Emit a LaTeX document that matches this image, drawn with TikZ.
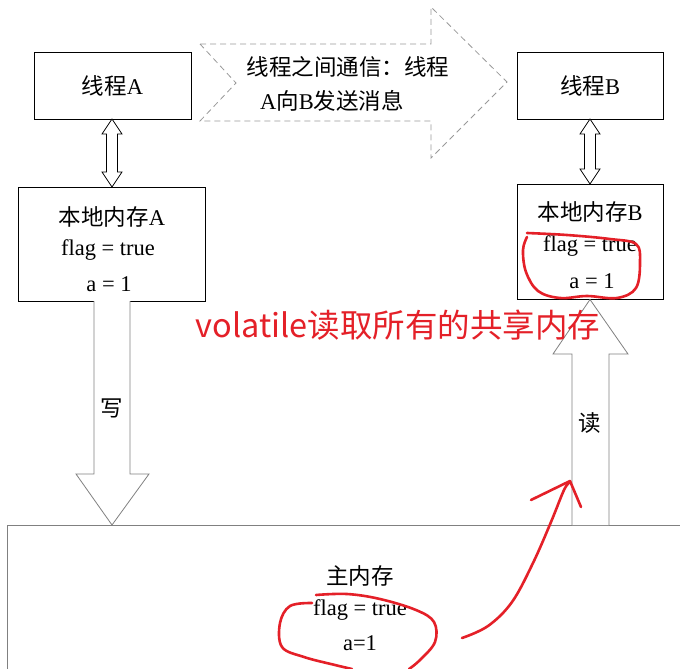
\documentclass[tikz,border=0pt]{standalone}
\usepackage{fontspec}
\setmainfont{Liberation Serif}
\newfontfamily\cjk{Noto Sans CJK SC}
\usetikzlibrary{calc}
\definecolor{pen}{RGB}{228,32,40}
\definecolor{arrowgray}{RGB}{128,128,128}
\tikzset{
  box/.style={draw=black, line width=0.9pt, inner sep=0pt},
  txt/.style={font=\fontsize{22.5}{26}\selectfont, inner sep=0pt, anchor=center},
  redtxt/.style={font=\cjk\fontsize{32.5}{36}\selectfont, text=pen, inner sep=0pt},
  hollow/.style={draw=arrowgray, line width=0.8pt, fill=white},
  dblarr/.style={draw=black, line width=0.8pt, fill=white},
  dasharr/.style={draw=arrowgray!80, line width=0.8pt, dash pattern=on 6pt off 4pt},
  scribble/.style={draw=pen, line width=2.6pt, line cap=round, line join=round}
}
\newcommand\mydblarrow[3]{% x center, top y, bottom y
  \draw[dblarr] (#1,#2) -- ++(10,15) -- ++(-4.5,0) -- (#1+5.5,#3-15) -- ++(4.5,0) -- (#1,#3)
    -- ++(-10,-15) -- ++(4.5,0) -- (#1-5.5,#2+15) -- ++(-4.5,0) -- cycle;}
\begin{document}
\begin{tikzpicture}[x=1pt,y=-1pt]
\useasboundingbox (0,0) rectangle (680,669);
% boxes
\node[box, minimum width=157pt, minimum height=67pt] (tA) at (112.5,85.5) {};
\node[txt] (tAl) at (tA.center) {{\cjk 线程}A};
\node[box, minimum width=146pt, minimum height=67pt] (tB) at (590,85.5) {};
\node[txt] (tBl) at (tB.center) {{\cjk 线程}B};
\node[box, minimum width=187pt, minimum height=114pt] (mA) at (111.5,244) {};
\node[txt] (mA1) at (112,217) {{\cjk 本地内存}A};
\node[txt] (mA2) at (108,250) {flag = true};
\node[txt] (mA3) at (109,284) {a = 1};
\node[box, minimum width=146pt, minimum height=115pt] (mB) at (590,241.5) {};
\node[txt] (mB1) at (590,212) {{\cjk 本地内存}B};
\node[txt] (mB2) at (590,246) {flag = true};
\node[txt] (mB3) at (592,281) {a = 1};
% double arrows
\mydblarrow{112}{119}{187}
\mydblarrow{590}{119}{184}
% dashed communication arrow
\draw[dasharr] (200,44) -- (431,44) -- (431,7) -- (507,82) -- (431,158) -- (431,121) -- (200,121) -- (236,83) -- cycle;
\node[txt] (c1) at (348,67) {\cjk 线程之间通信：线程};
\node[txt] (c2) at (332,101) {A{\cjk 向}B{\cjk 发送消息}};
% main memory
\coordinate (mmL) at (7,669);
\coordinate (mmC) at (7,525);
\coordinate (mmR) at (680,525);
\draw[line width=0.8pt, draw=arrowgray] (mmL) -- (mmC) -- (mmR);
\node[txt] (mm1) at (360,576) {\cjk 主内存};
\node[txt] (mm2) at (360,610) {flag = true};
\node[txt] (mm3) at (360,643) {a=1};
% write arrow
\draw[hollow] (94,301) -- (94,474) -- (76,474) -- (112,525) -- (149,474) -- (130,474) -- (130,301);
\node[txt] (w) at (112,408) {\cjk 写};
% read arrow
\draw[hollow] (572,525) -- (572,354) -- (553,354) -- (590,299.5) -- (628,354) -- (609,354) -- (609,525);
\node[txt] (r) at (590,423) {\cjk 读};
% red annotation
\node[redtxt] (note) at (398,325) {volatile读取所有的共享内存};
\draw[scribble] plot[smooth, tension=0.6] coordinates {(527,233) (567,235) (610,239) (636,244) (640,262) (636,288) (617,298) (587,296) (560,298) (538,291) (526,272) (523,250) (527,237)};
\draw[scribble] plot[smooth, tension=0.6] coordinates {(316,595) (347,594) (380,599) (416,610) (434,622) (435,642) (420,660) (409,669)};
\draw[scribble] plot[smooth, tension=0.6] coordinates {(312,603) (290,606) (280,623) (282,647) (304,657) (335,665) (352,669)};
\draw[scribble] plot[smooth, tension=0.6] coordinates {(462,638) (488,626) (512,602) (533,563) (551,522) (564,490) (570,482)};
\draw[scribble] (531,500) -- (570,481) -- (581,507);
\end{tikzpicture}
\end{document}
